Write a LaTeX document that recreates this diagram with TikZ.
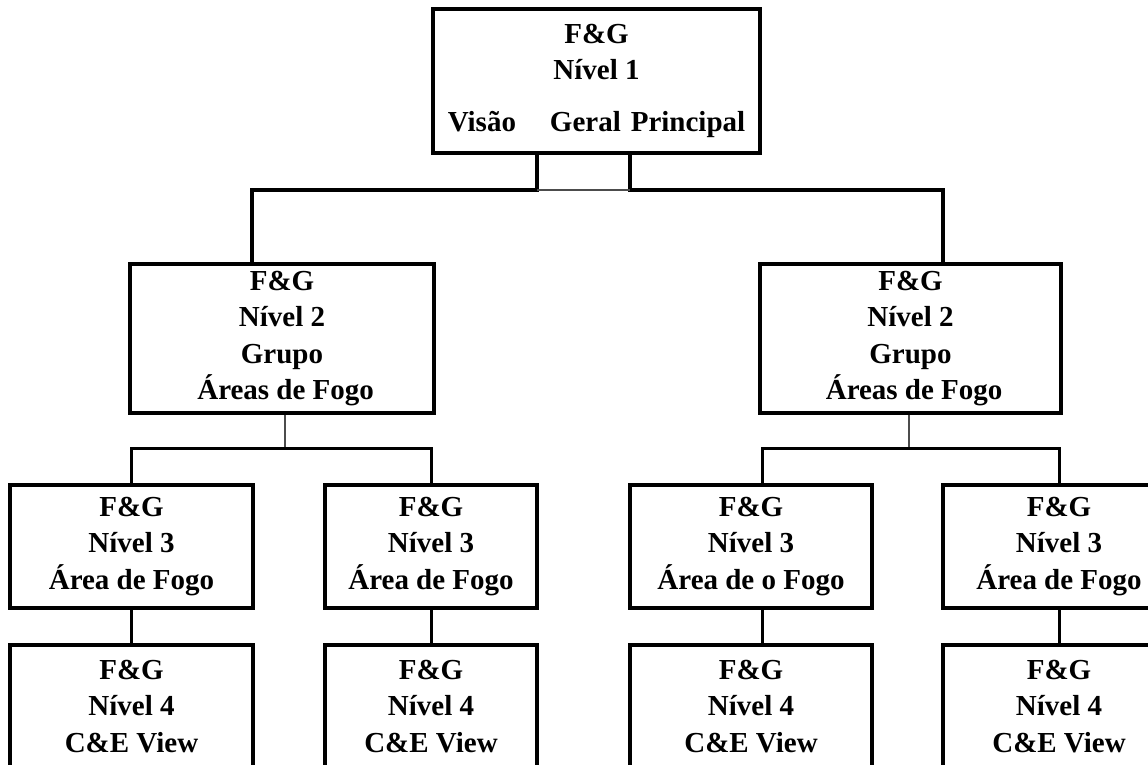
\documentclass[tikz,border=0pt]{standalone}
\usepackage{fontspec}
\setmainfont{Liberation Serif}
\usepackage{xcolor}
\usepackage{tikz}

\begin{document}
\begin{tikzpicture}[x=0.02cm, y=-0.02cm,
    fgbox/.style={draw, line width=2pt, align=center, inner sep=0pt,
        font=\bfseries\fontsize{16.5}{20.7}\selectfont},
    bar/.style={line width=2.2pt},
    link/.style={line width=1.7pt},
    thinlink/.style={line width=0.9pt, black!70}]
    \useasboundingbox (0,0) rectangle (1148,764);

    % nivel 1
    \node[fgbox, minimum width=6.54cm, minimum height=2.88cm] (top) at (596.5,81)
        {F\&G\\ Nível 1\\[9pt] Visão\hspace{0.68cm}Geral\hspace{0.2cm}Principal};

    % nivel 2
    \node[fgbox, minimum width=6.08cm, minimum height=2.98cm] (g2a) at (282,338.5)
        {F\&G\\ Nível 2\\ Grupo\\ \ Áreas de Fogo};
    \node[fgbox, minimum width=6.02cm, minimum height=2.98cm] (g2b) at (910.5,338.5)
        {F\&G\\ Nível 2\\ Grupo\\ \ Áreas de Fogo};

    % nivel 3
    \node[fgbox, minimum width=4.86cm, minimum height=2.46cm] (a3a) at (131.5,546.5)
        {F\&G\\ Nível 3\\ Área de Fogo};
    \node[fgbox, minimum width=4.24cm, minimum height=2.46cm] (a3b) at (431,546.5)
        {F\&G\\ Nível 3\\ Área de Fogo};
    \node[fgbox, minimum width=4.84cm, minimum height=2.46cm] (a3c) at (751,546.5)
        {F\&G\\ Nível 3\\ Área de o Fogo};
    \node[fgbox, minimum width=4.64cm, minimum height=2.46cm] (a3d) at (1059,546.5)
        {F\&G\\ Nível 3\\ Área de Fogo};

    % nivel 4
    \node[fgbox, minimum width=4.86cm, minimum height=2.46cm] (v4a) at (131.5,706.5)
        {F\&G\\ Nível 4\\ C\&E View};
    \node[fgbox, minimum width=4.24cm, minimum height=2.46cm] (v4b) at (431,706.5)
        {F\&G\\ Nível 4\\ C\&E View};
    \node[fgbox, minimum width=4.84cm, minimum height=2.46cm] (v4c) at (751,706.5)
        {F\&G\\ Nível 4\\ C\&E View};
    \node[fgbox, minimum width=4.64cm, minimum height=2.46cm] (v4d) at (1059,706.5)
        {F\&G\\ Nível 4\\ C\&E View};

    % ligacoes
    \coordinate (jl) at (537,190);
    \coordinate (jr) at (630,190);
    \coordinate (ka) at (252,264);
    \coordinate (kb) at (943,264);
    \coordinate (ma) at (285,448);
    \coordinate (mb) at (909,448);

    \draw[bar] (top.south -| jl) -- (jl) -| (ka);
    \draw[bar] (top.south -| jr) -- (jr) -| (kb);
    \draw[thinlink] (jl) -- (jr);

    \draw[thinlink] (g2a.south -| ma) -- (ma);
    \draw[thinlink] (g2b.south -| mb) -- (mb);
    \draw[link] (a3a.north) |- (ma) -| (a3b.north);
    \draw[link] ([xshift=0.22cm]a3c.north) |- (mb) -| (a3d.north);

    \draw[link] (a3a) -- (v4a);
    \draw[link] (a3b) -- (v4b);
    \draw[link] ([xshift=0.22cm]a3c.south) -- ([xshift=0.22cm]v4c.north);
    \draw[link] (a3d) -- (v4d);
\end{tikzpicture}
\end{document}
